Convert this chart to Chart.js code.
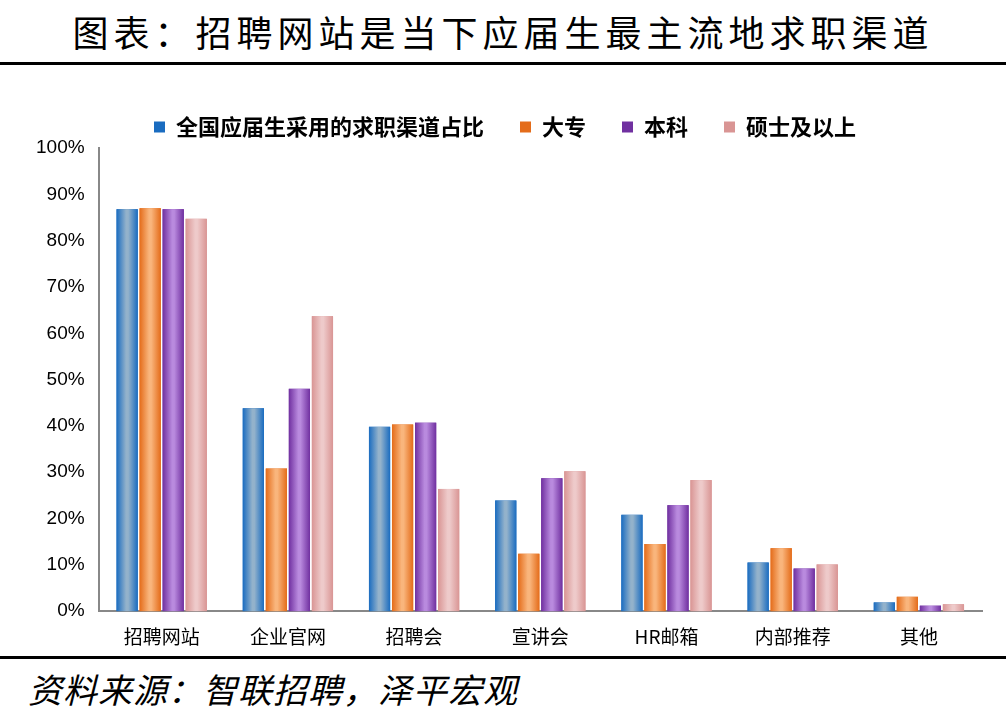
<!DOCTYPE html>
<html>
<head>
<meta charset="utf-8">
<script src="https://cdn.jsdelivr.net/npm/chart.js@4"></script>
<style>
  body { margin: 0; background: #fff; font-family: "Noto Sans CJK SC", sans-serif; }
  #wrap { width: 1006px; height: 724px; position: relative; }
  #title { position: absolute; left: 0; top: 8px; width: 1006px; text-align: center; font-size: 36px; letter-spacing: 5px; color: #000; line-height: 46px; }
  .rule { position: absolute; left: 0; width: 1006px; height: 3px; background: #000; }
  #box { position: absolute; left: 0; top: 80px; width: 1006px; height: 574px; }
  #foot { position: absolute; left: 28px; top: 664px; font-size: 34px; font-style: italic; color: #000; letter-spacing: 1px; }
</style>
</head>
<body>
<div id="wrap">
  <div id="title">图表：招聘网站是当下应届生最主流地求职渠道</div>
  <div class="rule" style="top:62px"></div>
  <div id="box"><canvas id="chart"></canvas></div>
  <div class="rule" style="top:656px"></div>
  <div id="foot">资料来源：智联招聘，泽平宏观</div>
</div>
<script>
const categories = ['招聘网站', '企业官网', '招聘会', '宣讲会', 'HR邮箱', '内部推荐', '其他'];
const seriesNames = ['全国应届生采用的求职渠道占比', '大专', '本科', '硕士及以上'];
const allGrads = [86.8, 43.8, 39.8, 23.9, 20.8, 10.5, 1.9];
const juniorCollege = [87.0, 30.8, 40.3, 12.4, 14.5, 13.6, 3.1];
const bachelor = [86.8, 48.0, 40.7, 28.7, 22.9, 9.2, 1.2];
const masterPlus = [84.7, 63.7, 26.4, 30.2, 28.3, 10.1, 1.5];

// edge colour, centre colour
const palette = [['#1a6cc0', '#93b2cb'], ['#e46c1a', '#f9b57c'], ['#7030a0', '#b98ade'], ['#d99594', '#eecaca']];

// paint each bar with a horizontal gradient on top of its own box
const gradientBars = {
  id: 'gradientBars',
  afterDatasetDraw(chart, args) {
    const c = chart.ctx;
    const cols = palette[args.index];
    args.meta.data.forEach(bar => {
      const p = bar.getProps(['x', 'y', 'base', 'width'], true);
      const x0 = p.x - p.width / 2, x1 = p.x + p.width / 2;
      const g = c.createLinearGradient(x0, 0, x1, 0);
      g.addColorStop(0, cols[0]);
      g.addColorStop(0.45, cols[1]);
      g.addColorStop(0.55, cols[1]);
      g.addColorStop(1, cols[0]);
      c.save();
      c.fillStyle = g;
      c.fillRect(x0, p.y, p.width, p.base - p.y);
      c.restore();
    });
  }
};

const data = [allGrads, juniorCollege, bachelor, masterPlus];
new Chart(document.getElementById('chart'), {
  type: 'bar',
  data: {
    labels: categories,
    datasets: seriesNames.map((name, i) => ({
      label: name,
      data: data[i],
      backgroundColor: palette[i][0],
      categoryPercentage: 0.73,
      barPercentage: 0.92
    }))
  },
  options: {
    responsive: true,
    maintainAspectRatio: false,
    animation: false,
    layout: { padding: { left: 28, right: 24, top: 0, bottom: 0 } },
    plugins: {
      legend: {
        labels: { boxWidth: 11, boxHeight: 11, color: '#000', padding: 36, font: { size: 22, weight: 'bold', family: 'Noto Sans CJK SC' } }
      },
      tooltip: { enabled: false }
    },
    scales: {
      y: {
        min: 0, max: 100,
        ticks: { stepSize: 10, color: '#000', padding: 8, font: { size: 19, family: 'Liberation Sans' }, callback: v => v + '%' },
        grid: { display: false, tickLength: 6, tickColor: '#888' },
        border: { color: '#888', width: 2 }
      },
      x: {
        ticks: { color: '#000', font: { size: 19, family: 'Noto Sans CJK SC' }, padding: 6 },
        grid: { display: false, offset: true, tickLength: 8, tickColor: '#888', drawOnChartArea: false },
        border: { color: '#888', width: 2 }
      }
    }
  },
  plugins: [gradientBars]
});
</script>
</body>
</html>
